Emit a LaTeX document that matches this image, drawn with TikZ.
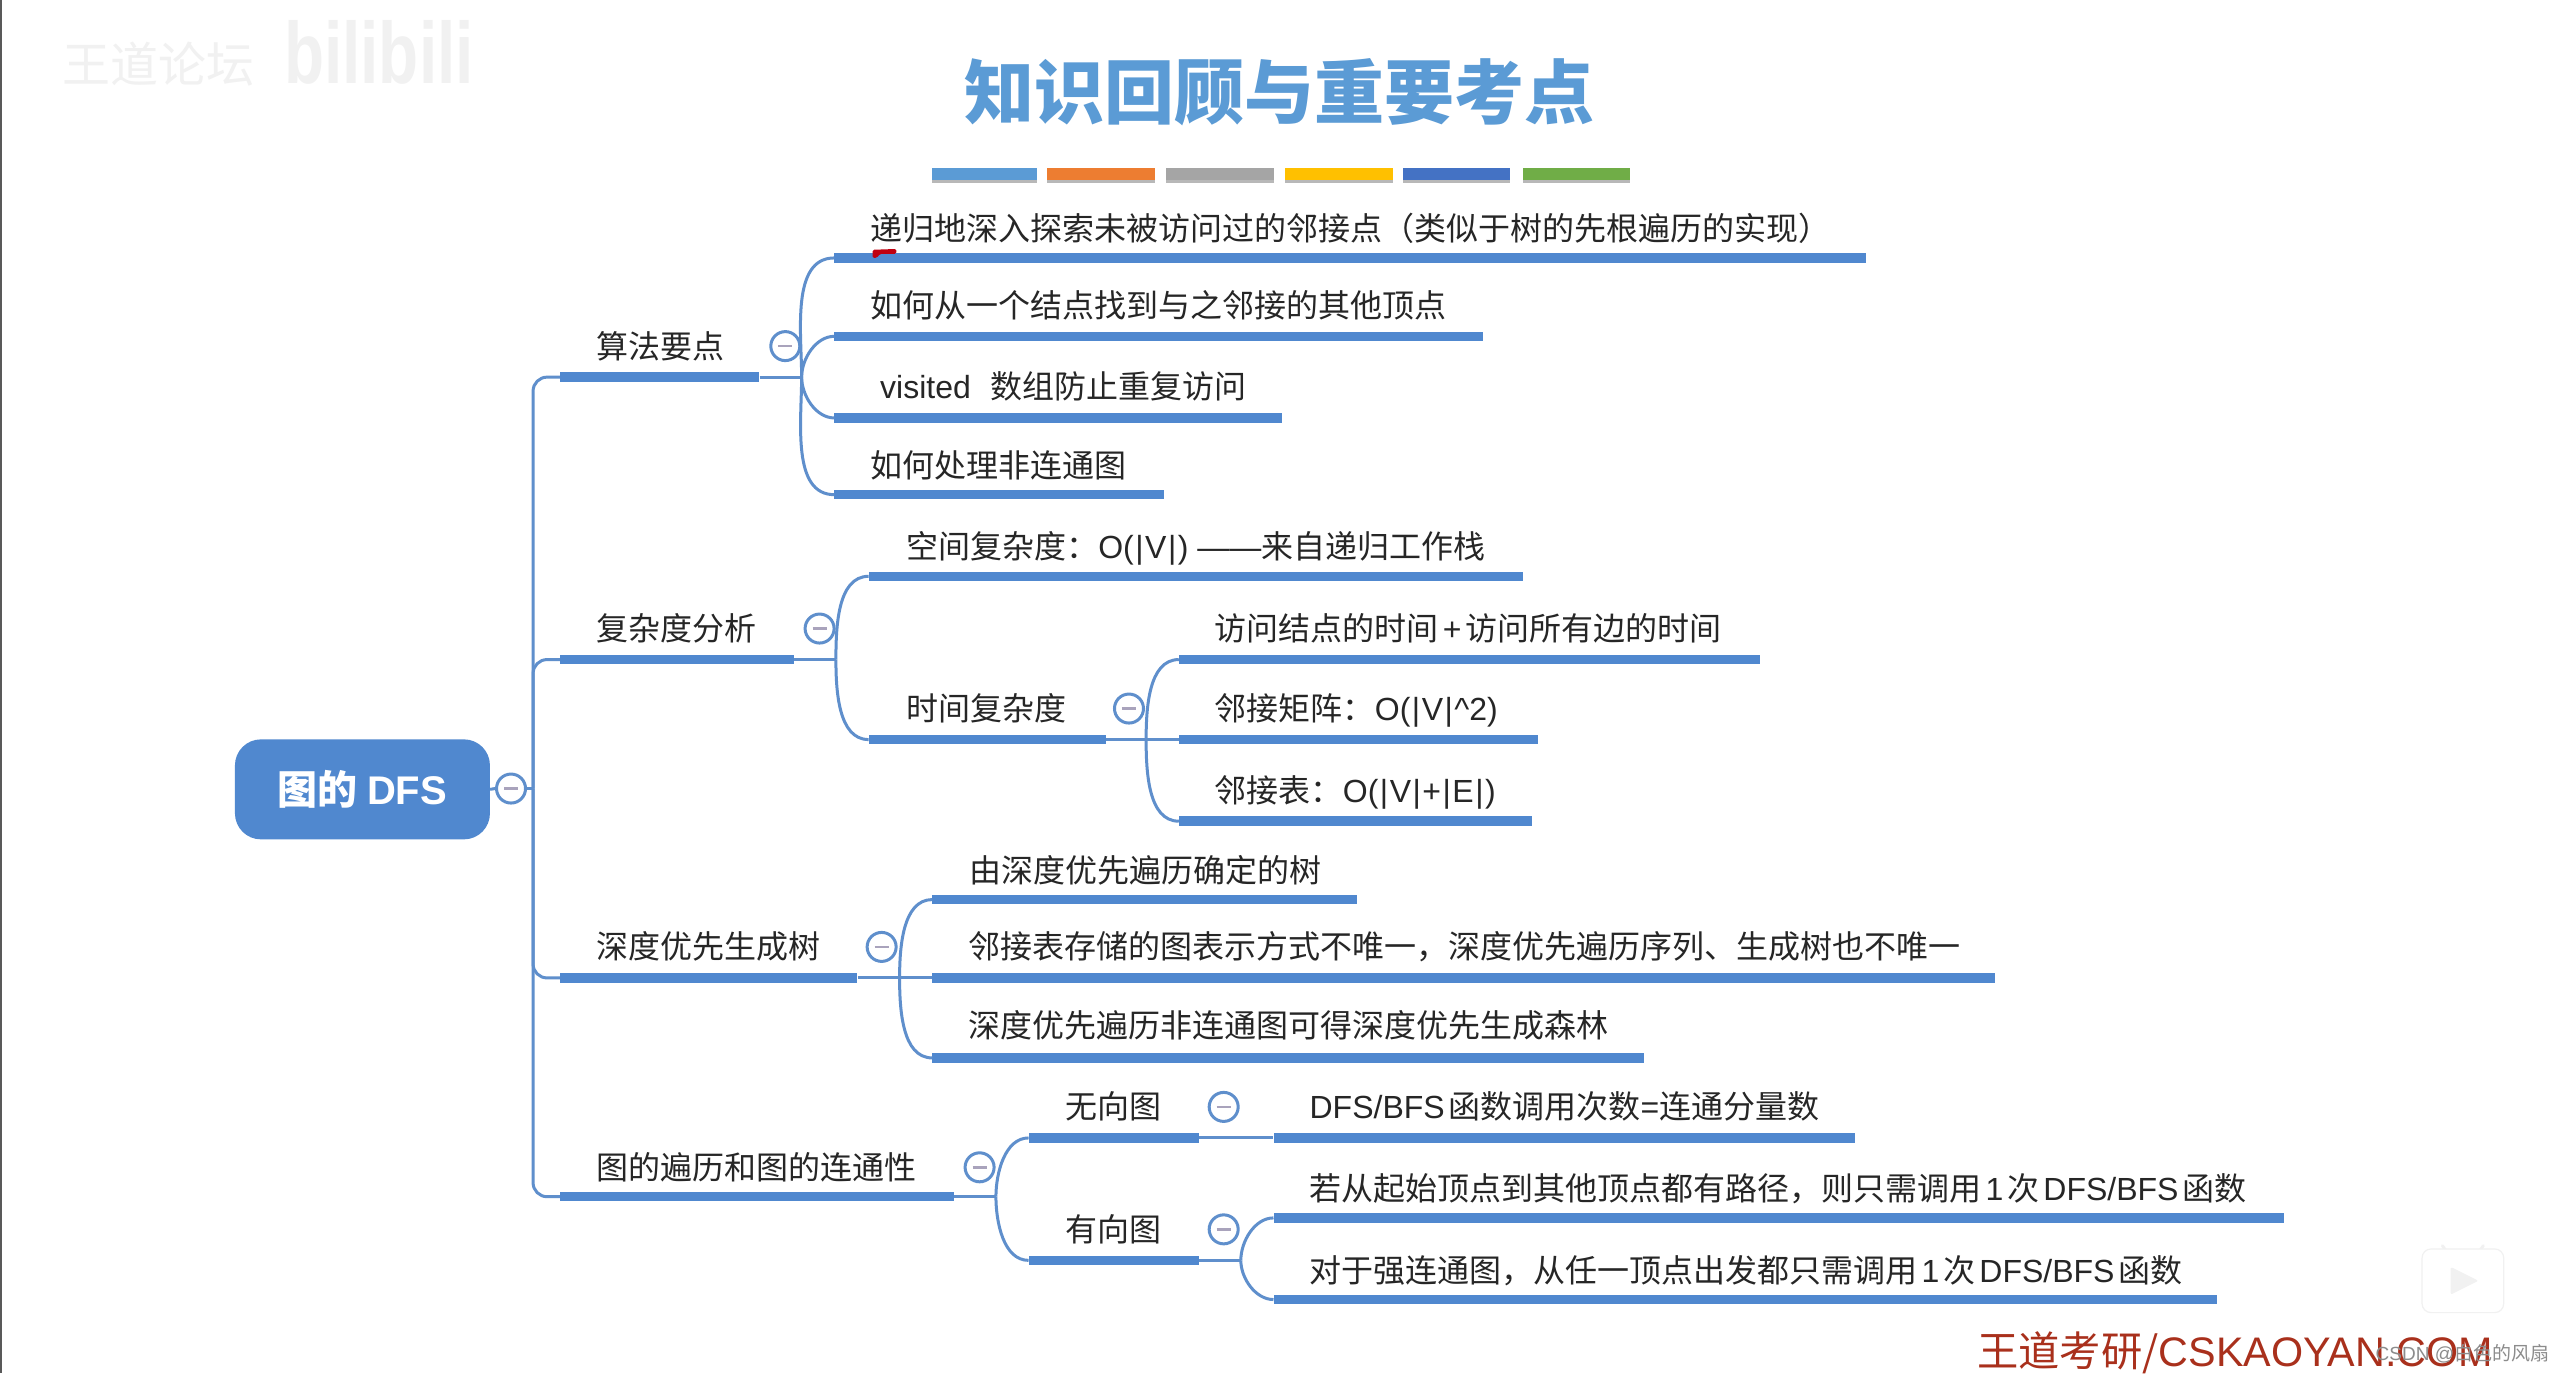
\documentclass[tikz,border=0pt]{standalone}
\usepackage{fontspec}
\setmainfont{Noto Sans CJK SC}
\newfontfamily\latinfont{Liberation Sans}
\usetikzlibrary{calc}
\definecolor{barblue}{HTML}{5088CF}
\definecolor{linkblue}{HTML}{5F8FCC}
\definecolor{titleblue}{HTML}{5B9BD5}
\definecolor{inkdark}{HTML}{262626}
\definecolor{wmgray}{HTML}{F1F1F1}
\definecolor{minusgray}{HTML}{A9A3BC}
\definecolor{redmark}{HTML}{C00010}
\definecolor{cskred}{HTML}{A9301C}
\definecolor{stripea}{HTML}{5B9BD5}
\definecolor{stripeb}{HTML}{ED7D31}
\definecolor{stripec}{HTML}{A5A5A5}
\definecolor{striped}{HTML}{FFC000}
\definecolor{stripee}{HTML}{4472C4}
\definecolor{stripef}{HTML}{70AD47}
\newcommand{\lat}[1]{{\latinfont #1}}
\newcommand{\vbar}{\hspace{1.5pt}|\hspace{1.5pt}}
\newcommand{\thinsp}{\hspace{4pt}}
\tikzset{
  bluebar/.style={rectangle,fill=barblue,inner sep=0pt,minimum height=9.5pt,anchor=west},
  topic/.style={anchor=west,inner sep=0pt,text=inkdark,text height=30pt,text depth=6pt,font=\fontsize{32}{36}\selectfont},
  link/.style={draw=linkblue,line width=3pt},
  foldmark/.style={circle,draw=linkblue,line width=3pt,fill=white,minimum size=29pt,inner sep=0pt,
    path picture={\draw[minusgray,line width=2.5pt] ($(path picture bounding box.center)+(-7pt,0)$) -- ($(path picture bounding box.center)+(7pt,0)$);}},
  rootbox/.style={rectangle,rounded corners=26pt,fill=barblue,text=white,inner sep=0pt,font=\fontsize{40}{44}\selectfont\bfseries},
  stripe/.style={rectangle,inner sep=0pt,minimum height=12pt,anchor=west},
  stripeshade/.style={rectangle,inner sep=0pt,minimum height=12pt,anchor=west,fill=black!28},
}
\newcommand{\tbar}[4]{\pgfmathsetlengthmacro{\barw}{(#3-#2)*1.63265pt}\node[bluebar,minimum width=\barw] (#1) at (#2,#4) {};}
\newcommand{\upbranch}[2]{\draw[link] (#1) to[out=90,in=180,looseness=0.9] (#2.west);}
\newcommand{\downbranch}[2]{\draw[link] (#1) to[out=-90,in=180,looseness=0.9] (#2.west);}
\newcommand{\tstripe}[4]{\pgfmathsetlengthmacro{\barw}{(#3-#2)*1.63265pt}
  \node[stripeshade,minimum width=\barw] (#1s) at (#2,108.6) {};
  \node[stripe,minimum width=\barw,fill=#4] (#1) at (#2,106.6) {};}
\begin{document}
\begin{tikzpicture}[x=1.63265pt,y=-1.63258pt]
\useasboundingbox (0,0) rectangle (1568,841);
\fill[white] (0,0) rectangle (1568,841);
\fill[black!65] (0,0) rectangle (1,841);
% watermark
\node[anchor=west,inner sep=0pt,text=wmgray,font=\fontsize{48}{52}\selectfont] (wma) at (38,39) {王道论坛};
\node[anchor=west,inner sep=0pt,text=wmgray,font=\fontsize{58}{60}\selectfont\bfseries\latinfont] (wmb) at (174,32) {\scalebox{1.13}[1.5]{bilibili}};
% title
\node[text=titleblue,inner sep=0pt,font=\fontsize{70}{80}\selectfont\bfseries] (title) at (783.5,56.5) {知识回顾与重要考点};
\tstripe{sa}{571}{635}{stripea}
\tstripe{sb}{641}{707}{stripeb}
\tstripe{sc}{714}{780}{stripec}
\tstripe{sd}{787}{853}{striped}
\tstripe{se}{859}{925}{stripee}
\tstripe{sf}{933}{998}{stripef}
% root
\node[rootbox,minimum width=255pt,minimum height=100pt] (root) at (222,483.5) {图的 \lat{DFS}};
\node[foldmark] (rootfold) at (313,483) {};
\coordinate (trunk) at (326.5,483);
\draw[link] (root.east) -- (rootfold.west);
\draw[link] (rootfold.east) -- (trunk);
% level 1 bars
\tbar{a}{343}{465}{231}
\tbar{b}{343}{486}{404}
\tbar{c}{343}{525}{599}
\tbar{d}{343}{584}{733}
\draw[link,rounded corners=14pt] (trunk) |- (a.west);
\draw[link,rounded corners=14pt] (trunk) |- (b.west);
\draw[link,rounded corners=14pt] (trunk) |- (c.west);
\draw[link,rounded corners=14pt] (trunk) |- (d.west);
\node[topic] (at) at (365,212) {算法要点};
\node[topic] (bt) at (365,385) {复杂度分析};
\node[topic] (ct) at (365,580) {深度优先生成树};
\node[topic] (dt) at (365,715) {图的遍历和图的连通性};
\node[foldmark] (af) at (481,212) {};
\node[foldmark] (bf) at (502,385) {};
\node[foldmark] (cf) at (540,580) {};
\node[foldmark] (df) at (600,715) {};
% branch a
\coordinate (aj) at (491,231);
\draw[link] (a.east) -- (aj);
\tbar{a1}{511}{1143}{158}
\tbar{a2}{511}{908}{206}
\tbar{a3}{511}{785}{256}
\tbar{a4}{511}{713}{303}
\upbranch{aj}{a1}\upbranch{aj}{a2}\downbranch{aj}{a3}\downbranch{aj}{a4}
\node[topic] (a1t) at (533,140) {递归地深入探索未被访问过的邻接点（类似于树的先根遍历的实现）};
\node[topic] (a2t) at (533,187) {如何从一个结点找到与之邻接的其他顶点};
\node[topic] (a3t) at (539,237) {\lat{visited}\hspace{20pt}数组防止重复访问};
\node[topic] (a4t) at (533,285) {如何处理非连通图};
\fill[redmark,rounded corners=1.5pt] (534.5,153) -- (549,152.5) -- (549,155.5) -- (539,155.5) -- (537,158) -- (534.5,158) -- cycle;
% branch b
\coordinate (bj) at (512,404);
\draw[link] (b.east) -- (bj);
\tbar{b1}{532}{933}{353}
\tbar{b2}{532}{677}{453}
\upbranch{bj}{b1}\downbranch{bj}{b2}
\node[topic] (b1t) at (555,335) {空间复杂度：\lat{O(\vbar V\vbar) ——}来自递归工作栈};
\node[topic] (b2t) at (555,434) {时间复杂度};
\node[foldmark] (b2f) at (691.5,434) {};
\coordinate (b2j) at (702,453);
\draw[link] (b2.east) -- (b2j);
\tbar{b21}{722}{1078}{404}
\tbar{b22}{722}{942}{453}
\tbar{b23}{722}{938}{503}
\upbranch{b2j}{b21}
\draw[link] (b2j) -- (b22.west);
\downbranch{b2j}{b23}
\node[topic] (b21t) at (744,385) {访问结点的时间\thinsp\lat{+}\thinsp 访问所有边的时间};
\node[topic] (b22t) at (744,434) {邻接矩阵：\lat{O(\vbar V\vbar\^{}2)}};
\node[topic] (b23t) at (744,484) {邻接表：\lat{O(\vbar V\vbar+\vbar E\vbar)}};
% branch c
\coordinate (cj) at (551,599);
\draw[link] (c.east) -- (cj);
\tbar{c1}{571}{831}{551}
\tbar{c2}{571}{1222}{599}
\tbar{c3}{571}{1007}{648}
\upbranch{cj}{c1}
\draw[link] (cj) -- (c2.west);
\downbranch{cj}{c3}
\node[topic] (c1t) at (593.5,533) {由深度优先遍历确定的树};
\node[topic] (c2t) at (593,580) {邻接表存储的图表示方式不唯一，深度优先遍历序列、生成树也不唯一};
\node[topic] (c3t) at (593,628) {深度优先遍历非连通图可得深度优先生成森林};
% branch d
\coordinate (dj) at (610,733);
\draw[link] (d.east) -- (dj);
\tbar{d1}{630}{734}{697}
\tbar{d2}{630}{734}{772}
\upbranch{dj}{d1}\downbranch{dj}{d2}
\node[topic] (d1t) at (652.5,678) {无向图};
\node[topic] (d2t) at (652.5,753) {有向图};
\node[foldmark] (d1f) at (749.5,678) {};
\node[foldmark] (d2f) at (749.5,753) {};
\tbar{d11}{780}{1136}{697}
\draw[link] (d1.east) -- (d11.west);
\node[topic] (d11t) at (802,678) {\lat{DFS/BFS}\thinsp 函数调用次数\lat{=}连通分量数};
\coordinate (d2j) at (760,772);
\draw[link] (d2.east) -- (d2j);
\tbar{d21}{780}{1399}{746}
\tbar{d22}{780}{1358}{796}
\upbranch{d2j}{d21}\downbranch{d2j}{d22}
\node[topic] (d21t) at (802,728) {若从起始顶点到其他顶点都有路径，则只需调用\thinsp\lat{1}\thinsp 次\thinsp\lat{DFS/BFS}\thinsp 函数};
\node[topic] (d22t) at (802,778) {对于强连通图，从任一顶点出发都只需调用\thinsp\lat{1}\thinsp 次\thinsp\lat{DFS/BFS}\thinsp 函数};
% bottom right
\draw[wmgray,line width=3pt,line cap=round] (1496,763) -- (1500,769) (1521,763) -- (1517,769);
\draw[wmgray,fill=white,line width=1.2pt,rounded corners=9pt] (1483.5,765) rectangle (1533.5,804);
\fill[wmgray,rounded corners=2pt] (1501,776) -- (1518,784.5) -- (1501,793) -- cycle;
\node[anchor=west,inner sep=0pt,text=cskred,font=\fontsize{41.3}{44}\selectfont] (csk) at (1211,828.5) {王道考研/\lat{CSKAOYAN.COM}};
\node[anchor=west,inner sep=0pt,text=black!45,font=\fontsize{19}{22}\selectfont] (csdn) at (1455,829.5) {\lat{CSDN @}白色的风扇};
\end{tikzpicture}
\end{document}
